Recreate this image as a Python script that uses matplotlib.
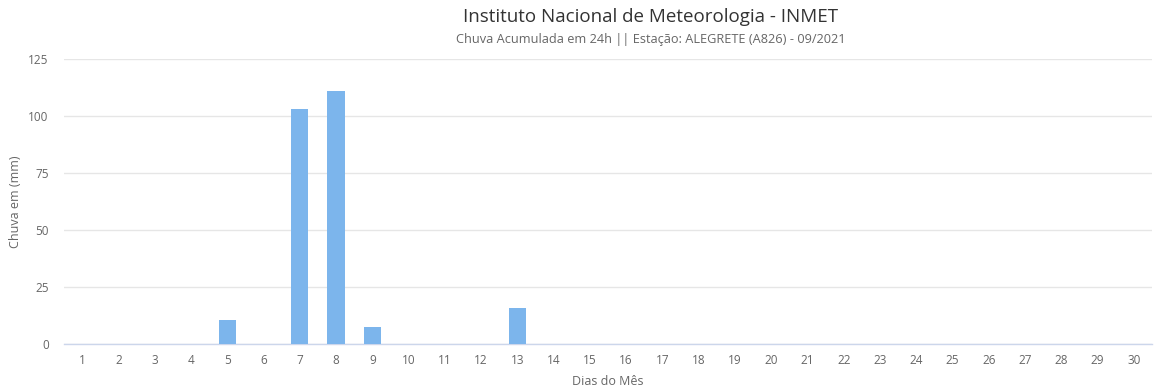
import matplotlib
matplotlib.use("Agg")
import matplotlib.pyplot as plt

days = list(range(1, 31))
rain = [0, 0, 0, 0, 10.5, 0, 103.1, 111.0, 7.5, 0, 0, 0, 15.8, 0, 0,
        0, 0, 0, 0, 0, 0, 0, 0, 0, 0, 0, 0, 0, 0, 0]
yticks = [0, 25, 50, 75, 100, 125]

plt.rcParams['font.family'] = ['Open Sans', 'DejaVu Sans']

W, H = 1166, 392
fig = plt.figure(figsize=(W/100, H/100), dpi=100)
ax = fig.add_axes([64/W, 1-344/H, (1152-64)/W, (344-59)/H])

ax.bar(days, rain, width=0.47, color='#7cb5ec', zorder=3)
ax.set_xlim(0.5, 30.5)
ax.set_ylim(0, 125)
ax.set_yticks(yticks)
ax.set_xticks(days)
ax.set_xticklabels([str(d) for d in days])
ax.grid(axis='y', color='#e6e6e6', linewidth=1, zorder=0)
for s in ['top', 'right', 'left']:
    ax.spines[s].set_visible(False)
ax.spines['bottom'].set_color('#ccd6eb')
ax.spines['bottom'].set_linewidth(1)
ax.tick_params(axis='y', length=0, pad=11, labelsize=8.5, labelcolor='#666666')
ax.tick_params(axis='x', length=0, pad=7, labelsize=8.5, labelcolor='#666666')
ax.set_ylabel('Chuva em (mm)', fontsize=9, color='#666666')
ax.yaxis.set_label_coords((22-64)/1088, 0.5)
ax.set_xlabel('Dias do Mês', fontsize=9, color='#666666', labelpad=6)

fig.text(651/W, 1-17/H, 'Instituto Nacional de Meteorologia - INMET', ha='center', va='center',
         fontsize=13.5, color='#333333')
fig.text(651/W, 1-40/H, 'Chuva Acumulada em 24h || Estação: ALEGRETE (A826) - 09/2021', ha='center',
         va='center', fontsize=9.2, color='#666666')

fig.savefig('out.png', dpi=100, facecolor='white')
